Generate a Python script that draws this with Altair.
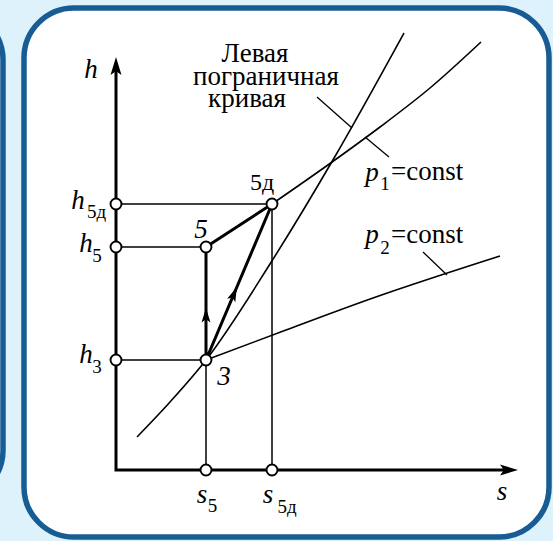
import math
import altair as alt
import pandas as pd

# h-s diagram of the compression process 3 -> 5 (ideal) and 3 -> 5д (real)
# Coordinates are in diagram units (s along x, h along y), origin at the axes corner.
W, H = 553, 541
S_DOMAIN = [-11.6, 43.7]
H_DOMAIN = [-7.1, 47.0]

# state points
s5, s5d = 9.0, 15.6
h3, h5, h5d = 11.0, 22.3, 26.6
AX_S_END, AX_H_END = 40.2, 41.3

# left boundary curve
bound_s = [2.1, 5.4, 9.0, 15.4, 21.75, 28.8]
bound_h = [3.3, 6.8, 11.0, 20.6, 31.1, 43.7]
# isobar p1 above point 5д
p1_s = [15.6, 21.75, 26.4, 31.4, 36.5]
p1_h = [26.6, 30.9, 34.3, 38.2, 42.8]
# isobar p2 from point 3
p2_s = [9.0, 17.0, 25.7, 38.4]
p2_h = [11.0, 14.0, 17.2, 21.4]

# leader lines of the curve labels
lead_s = [20.1, 24.9, 30.7]
lead_s2 = [23.6, 27.3, 33.1]
lead_h = [37.3, 33.3, 21.8]
lead_h2 = [34.2, 31.3, 19.5]

FONT = "Times New Roman"
BG = "#ddf2fa"
BLUE = "#185c94"

xs = alt.Scale(domain=S_DOMAIN, nice=False, zero=False)
ys = alt.Scale(domain=H_DOMAIN, nice=False, zero=False)
X = lambda f: alt.X(f, type="quantitative", scale=xs, axis=None)
Y = lambda f: alt.Y(f, type="quantitative", scale=ys, axis=None)

one = pd.DataFrame({"k": [0]})

# panels
left_panel = alt.Chart(one).mark_rect(
    fill="white", stroke=BLUE, strokeWidth=5.5, cornerRadius=50
).encode(x=alt.value(-150), x2=alt.value(3), y=alt.value(10), y2=alt.value(500))
main_panel = alt.Chart(one).mark_rect(
    fill="white", stroke=BLUE, strokeWidth=5.5, cornerRadius=50
).encode(x=alt.value(24), x2=alt.value(549), y=alt.value(8), y2=alt.value(537))

def curve(ss, hh):
    return pd.DataFrame({"s": ss, "h": hh, "i": list(range(len(ss)))})

line_kw = dict(color="black", strokeWidth=1.6, interpolate="monotone")
boundary = alt.Chart(curve(bound_s, bound_h)).mark_line(**line_kw).encode(
    x=X("s"), y=Y("h"), order="i:Q")
isobar1 = alt.Chart(curve(p1_s, p1_h)).mark_line(**line_kw).encode(
    x=X("s"), y=Y("h"), order="i:Q")
isobar2 = alt.Chart(curve(p2_s, p2_h)).mark_line(**line_kw).encode(
    x=X("s"), y=Y("h"), order="i:Q")

guides = pd.DataFrame({
    "s": [0, 0, 0, s5, s5d],
    "s2": [s5d, s5, s5, s5, s5d],
    "h": [h5d, h5, h3, 0, 0],
    "h2": [h5d, h5, h3, h5, h5d],
})
guide_rules = alt.Chart(guides).mark_rule(color="black", strokeWidth=1.5).encode(
    x=X("s"), x2="s2:Q", y=Y("h"), y2="h2:Q")

leaders = pd.DataFrame({"s": lead_s, "s2": lead_s2, "h": lead_h, "h2": lead_h2})
leader_rules = alt.Chart(leaders).mark_rule(color="black", strokeWidth=1.3).encode(
    x=X("s"), x2="s2:Q", y=Y("h"), y2="h2:Q")

# process lines 3 -> 5 -> 5д -> 3
proc = curve([s5, s5, s5d, s5], [h3, h5, h5d, h3])
process = alt.Chart(proc).mark_line(
    color="black", strokeWidth=3.0, strokeJoin="round").encode(
    x=X("s"), y=Y("h"), order="i:Q")

# axes
axes_df = curve([0, 0, AX_S_END - 0.8], [AX_H_END - 0.8, 0, 0])
axes = alt.Chart(axes_df).mark_line(
    color="black", strokeWidth=3.0, strokeJoin="miter").encode(
    x=X("s"), y=Y("h"), order="i:Q")

ARROW = "M0,-1L0.55,0.8L0,0.42L-0.55,0.8Z"
ax_arrows = pd.DataFrame({
    "s": [0, AX_S_END - 1.0],
    "h": [AX_H_END - 1.0, 0],
    "ang": [0, 90],
})
ax_arrow_marks = alt.Chart(ax_arrows).mark_point(
    shape=ARROW, filled=True, color="black", size=400, opacity=1).encode(
    x=X("s"), y=Y("h"), angle=alt.Angle("ang:Q", scale=None))

# arrows along 3 -> 5 and 3 -> 5д
t_up, t_diag = 0.39, 0.42
proc_arrows = pd.DataFrame({
    "s": [s5, s5 + t_diag * (s5d - s5)],
    "h": [h3 + t_up * (h5 - h3), h3 + t_diag * (h5d - h3)],
    "ang": [0.0, math.degrees(math.atan2(s5d - s5, h5d - h3))],
})
proc_arrow_marks = alt.Chart(proc_arrows).mark_point(
    shape=ARROW, filled=True, color="black", size=260, opacity=1).encode(
    x=X("s"), y=Y("h"), angle=alt.Angle("ang:Q", scale=None))

circles = pd.DataFrame({
    "s": [0, 0, 0, s5, s5, s5d, s5, s5d],
    "h": [h5d, h5, h3, h5, h3, h5d, 0, 0],
})
circle_marks = alt.Chart(circles).mark_point(
    shape="circle", filled=True, fill="white", stroke="black", strokeWidth=1.9,
    size=120, opacity=1).encode(x=X("s"), y=Y("h"))

# labels
italic = pd.DataFrame({
    "t": ["h", "s", "h", "h", "h", "s", "s", "p", "p", "5", "3"],
    "s": [-2.5, 38.6, -3.8, -3.0, -3.0, 8.6, 15.2, 25.6, 25.6, 8.5, 10.8],
    "h": [39.2, -3.0, 26.1, 21.8, 10.7, -3.3, -3.3, 28.9, 22.7, 23.2, 8.5],
})
subs = pd.DataFrame({
    "t": ["5д", "5", "3", "5", "5д", "1", "2"],
    "s": [-1.95, -1.9, -1.9, 9.65, 17.1, 26.9, 26.9],
    "h": [25.2, 20.8, 9.7, -4.2, -4.3, 28.0, 21.6],
})
consts = pd.DataFrame({
    "t": ["=const", "=const"],
    "s": [27.5, 27.5],
    "h": [29.0, 22.7],
})
point_lbl = pd.DataFrame({"t": ["5д"], "s": [14.6], "h": [28.0]})
caption = pd.DataFrame({
    "t": ["Левая", "пограничная", "кривая"],
    "s": [13.9, 15.0, 13.1],
    "h": [40.8, 38.5, 36.3],
})

def texts(df, size, style="normal", align="center"):
    return alt.Chart(df).mark_text(
        font=FONT, fontSize=size, fontStyle=style, align=align,
        baseline="alphabetic", color="black").encode(
        x=X("s"), y=Y("h"), text="t:N")

chart = alt.layer(
    left_panel, main_panel,
    guide_rules, boundary, isobar1, isobar2, leader_rules,
    process, axes, ax_arrow_marks, proc_arrow_marks, circle_marks,
    texts(italic, 27, "italic"), texts(subs, 19), texts(consts, 27, align="left"),
    texts(point_lbl, 24), texts(caption, 27),
).properties(
    width=W, height=H, background=BG, padding=0,
    autosize=alt.AutoSizeParams(type="none"),
).configure_view(stroke=None)

chart.save("out.html", embed_options={"renderer": "svg", "actions": False})
